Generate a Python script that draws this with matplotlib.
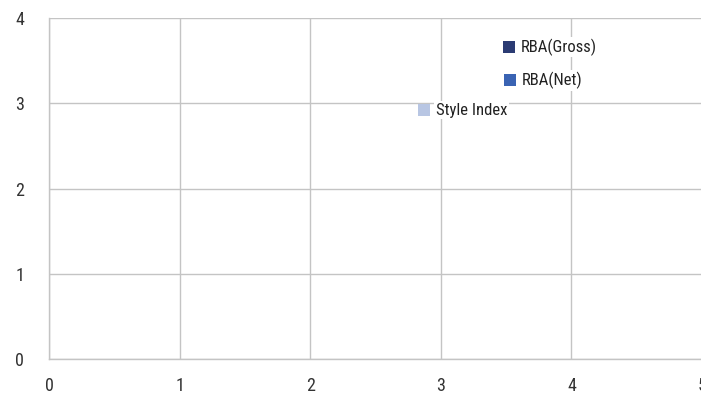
import matplotlib
matplotlib.use("Agg")
import matplotlib.pyplot as plt

names = ["RBA(Gross)", "RBA(Net)", "Style Index"]
x_vals = [3.52, 3.53, 2.87]
y_vals = [3.66, 3.27, 2.92]
colors = ["#2b3b73", "#3a63b3", "#b8c6e3"]

x_ticks = [0, 1, 2, 3, 4, 5]
y_ticks = [0, 1, 2, 3, 4]

plt.rcParams["font.family"] = ["Roboto Condensed", "DejaVu Sans"]

fig = plt.figure(figsize=(7.01, 3.98), dpi=100)
ax = fig.add_axes([49 / 701, 39 / 398, 653 / 701, 341 / 398])

ax.set_xlim(0, 5)
ax.set_ylim(0, 4)
ax.set_xticks(x_ticks)
ax.set_yticks(y_ticks)
ax.grid(True, color="#c4c4c4", linewidth=1)
ax.set_axisbelow(True)
for side in ["top", "right"]:
    ax.spines[side].set_visible(False)
for side in ["left", "bottom"]:
    ax.spines[side].set_color("#c4c4c4")
    ax.spines[side].set_linewidth(1)
ax.tick_params(length=0, labelsize=13, colors="#333333")
ax.tick_params(axis="y", pad=18)
ax.tick_params(axis="x", pad=13)

for name, xv, yv, c in zip(names, x_vals, y_vals, colors):
    ax.scatter([xv], [yv], marker="s", s=75, color=c, zorder=3, linewidths=0)
    ax.annotate(name, (xv, yv), xytext=(8.5, 0), textcoords="offset points",
                va="center", ha="left", fontsize=12, color="#222222",
                bbox=dict(boxstyle="square,pad=0.1", fc="white", ec="none"),
                zorder=4)

fig.savefig("out.png", dpi=100)
